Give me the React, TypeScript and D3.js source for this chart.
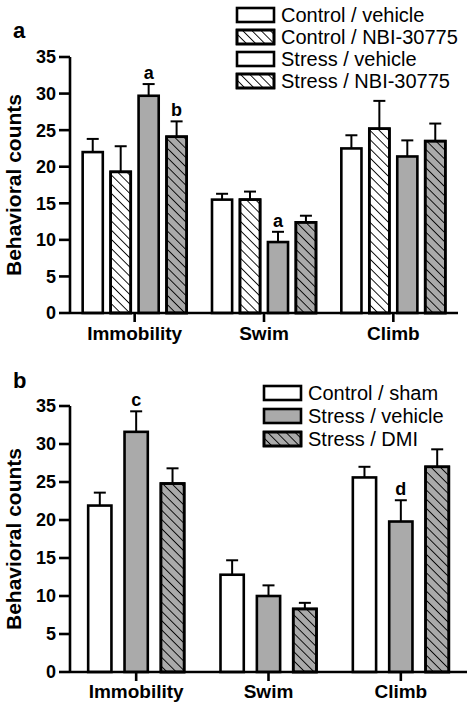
import React from "react";
import * as d3 from "d3";

const categories = ["Immobility", "Swim", "Climb"];
const yTicks = [0, 5, 10, 15, 20, 25, 30, 35];

// Panel a
const seriesA = ["Control / vehicle", "Control / NBI-30775", "Stress / vehicle", "Stress / NBI-30775"];
const meansA = [
  [22.0, 19.3, 29.7, 24.1],
  [15.5, 15.5, 9.7, 12.4],
  [22.5, 25.2, 21.4, 23.5],
];
const errA = [
  [1.8, 3.5, 1.6, 2.1],
  [0.8, 1.1, 1.4, 0.9],
  [1.8, 3.8, 2.2, 2.4],
];
const lettersA = [
  ["", "", "a", "b"],
  ["", "", "a", ""],
  ["", "", "", ""],
];
const fillsA = ["#ffffff", "#ffffff", "#aaaaaa", "#aaaaaa"];
const hatchA = [false, true, false, true];
const legendFillsA = ["#ffffff", "#ffffff", "#ffffff", "#ffffff"];

// Panel b
const seriesB = ["Control / sham", "Stress / vehicle", "Stress / DMI"];
const meansB = [
  [21.9, 31.6, 24.8],
  [12.8, 10.0, 8.3],
  [25.6, 19.8, 27.0],
];
const errB = [
  [1.7, 2.7, 2.0],
  [1.9, 1.4, 0.8],
  [1.4, 2.8, 2.3],
];
const lettersB = [
  ["", "c", ""],
  ["", "", ""],
  ["", "d", ""],
];
const fillsB = ["#ffffff", "#aaaaaa", "#aaaaaa"];
const hatchB = [false, false, true];

const FONT = "'Liberation Sans', Arial, sans-serif";

type PanelProps = {
  label: string;
  labelY: number;
  top: number;
  bottom: number;
  right: number;
  means: number[][];
  errs: number[][];
  letters: string[][];
  fills: string[];
  hatch: boolean[];
  groupHalf: number;
  padInner: number;
  series: string[];
  legendFills: string[];
  legendX: number;
  legendY: number;
  legendStep: number;
  tickLabelY: number;
};

function Panel(p: PanelProps) {
  const left = 70;
  const y = d3.scaleLinear().domain([0, 35]).range([p.bottom, p.top]);
  const x = d3.scaleBand<string>().domain(categories).range([left, p.right]).paddingInner(0).paddingOuter(0);
  const inner = d3
    .scaleBand<number>()
    .domain(p.series.map((_, i) => i))
    .range([-p.groupHalf, p.groupHalf])
    .paddingInner(p.padInner)
    .paddingOuter(0);
  const bw = inner.bandwidth();
  return (
    <g>
      <text x={13} y={p.labelY} fontFamily={FONT} fontWeight="bold" fontSize={22}>
        {p.label}
      </text>
      {/* y axis label */}
      <text
        transform={`translate(21,${(p.top + p.bottom) / 2}) rotate(-90)`}
        textAnchor="middle"
        fontFamily={FONT}
        fontWeight="bold"
        fontSize={21}
      >
        Behavioral counts
      </text>
      {/* bars */}
      {categories.map((c, ci) => {
        const cx = (x(c) as number) + x.bandwidth() / 2;
        return (
          <g key={c}>
            {p.means[ci].map((m, si) => {
              const bx = cx + (inner(si) as number);
              const ty = y(m);
              const ey = y(m + p.errs[ci][si]);
              const mid = bx + bw / 2;
              return (
                <g key={si}>
                  <line x1={mid} x2={mid} y1={ty} y2={ey} stroke="#000" strokeWidth={2} />
                  <line x1={mid - 6} x2={mid + 6} y1={ey} y2={ey} stroke="#000" strokeWidth={2} />
                  <rect x={bx} y={ty} width={bw} height={p.bottom - ty} fill={p.fills[si]} stroke="#000" strokeWidth={2.6} />
                  {p.hatch[si] && (
                    <rect x={bx} y={ty} width={bw} height={p.bottom - ty} fill="url(#hatch)" stroke="#000" strokeWidth={2.6} />
                  )}
                  {p.letters[ci][si] && (
                    <text
                      x={mid}
                      y={ey - 5}
                      textAnchor="middle"
                      fontFamily={FONT}
                      fontWeight="bold"
                      fontSize={18}
                    >
                      {p.letters[ci][si]}
                    </text>
                  )}
                </g>
              );
            })}
          </g>
        );
      })}
      {/* y axis */}
      <line x1={left} x2={left} y1={p.top} y2={p.bottom} stroke="#000" strokeWidth={2.6} />
      {yTicks.map((t) => (
        <g key={t}>
          <line x1={left - 11} x2={left} y1={y(t)} y2={y(t)} stroke="#000" strokeWidth={2.6} />
          <text
            x={left - 14}
            y={y(t)}
            dy="0.36em"
            textAnchor="end"
            fontFamily={FONT}
            fontWeight="bold"
            fontSize={18}
          >
            {t}
          </text>
        </g>
      ))}
      {/* x axis */}
      <line x1={left} x2={p.right} y1={p.bottom} y2={p.bottom} stroke="#000" strokeWidth={2.6} />
      {categories.map((c) => {
        const cx = (x(c) as number) + x.bandwidth() / 2;
        return (
          <g key={c}>
            <line x1={cx} x2={cx} y1={p.bottom} y2={p.bottom + 9} stroke="#000" strokeWidth={2.6} />
            <text x={cx} y={p.tickLabelY} textAnchor="middle" fontFamily={FONT} fontWeight="bold" fontSize={19}>
              {c}
            </text>
          </g>
        );
      })}
      {/* legend */}
      {p.series.map((s, i) => {
        const ly = p.legendY + i * p.legendStep;
        return (
          <g key={s}>
            <rect x={p.legendX} y={ly - 7} width={37} height={14} fill={p.legendFills[i]} stroke="#000" strokeWidth={2.6} />
            {p.hatch[i] && (
              <rect x={p.legendX} y={ly - 7} width={37} height={14} fill="url(#hatch)" stroke="#000" strokeWidth={2.6} />
            )}
            <text x={p.legendX + 44} y={ly} dy="0.36em" fontFamily={FONT} fontSize={20}>
              {s}
            </text>
          </g>
        );
      })}
    </g>
  );
}

export default function App() {
  return (
    <svg
      width={476}
      height={708}
      style={{ position: "absolute", left: 0, top: 0, background: "#fff" }}
    >
      <defs>
        <pattern id="hatch" patternUnits="userSpaceOnUse" width={6.5} height={6.5} patternTransform="rotate(-45)">
          <line x1={0} y1={0} x2={0} y2={6.5} stroke="#000" strokeWidth={1.8} />
        </pattern>
      </defs>
      <rect width={476} height={708} fill="#fff" />
      <Panel
        label="a"
        labelY={38}
        top={57}
        bottom={313}
        right={458}
        means={meansA}
        errs={errA}
        letters={lettersA}
        fills={fillsA}
        hatch={hatchA}
        groupHalf={52}
        padInner={0.28}
        series={seriesA}
        legendFills={legendFillsA}
        legendX={237}
        legendY={15}
        legendStep={22}
        tickLabelY={340}
      />
      <Panel
        label="b"
        labelY={388}
        top={406}
        bottom={672}
        right={467}
        means={meansB}
        errs={errB}
        letters={lettersB}
        fills={fillsB}
        hatch={hatchB}
        groupHalf={48}
        padInner={0.36}
        series={seriesB}
        legendFills={fillsB}
        legendX={264}
        legendY={393}
        legendStep={23}
        tickLabelY={698}
      />
    </svg>
  );
}
